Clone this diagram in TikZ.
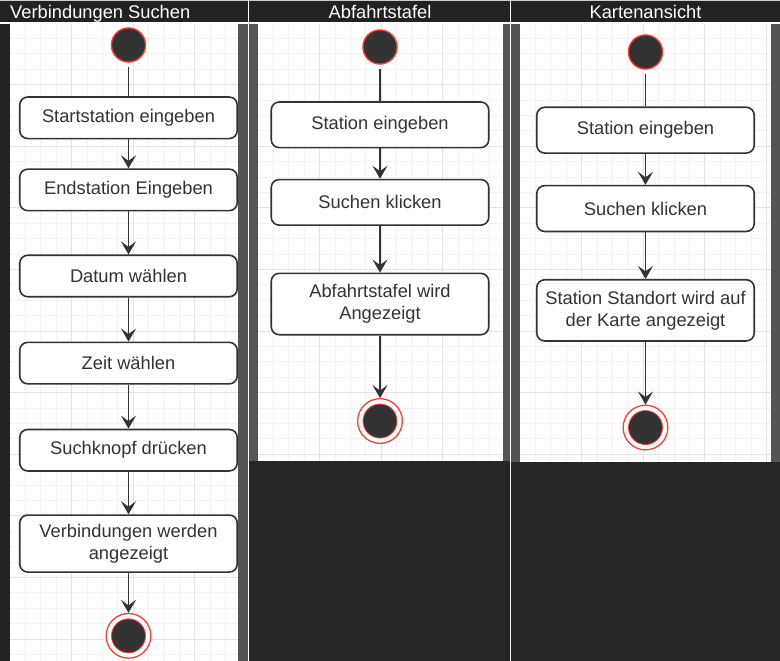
\documentclass[tikz,border=0pt]{standalone}
\usepackage{fontspec}
\setmainfont{Liberation Sans}
\usetikzlibrary{arrows.meta,positioning}
\definecolor{hdrdark}{RGB}{34,34,34}
\definecolor{bgdark}{RGB}{38,38,38}
\definecolor{stripgray}{RGB}{85,85,85}
\definecolor{gridminor}{RGB}{243,243,243}
\definecolor{gridmajor}{RGB}{228,228,228}
\definecolor{inkgray}{RGB}{51,51,51}
\definecolor{statered}{RGB}{255,60,60}

% light drawing grid inside one lane: x0 y0 x1 y1
\newcommand\lanegrid[4]{%
  \pgfmathsetmacro\gxa{#1+15.4}\pgfmathsetmacro\gxb{#1+30.8}%
  \pgfmathsetmacro\gya{#2+15.4}\pgfmathsetmacro\gyb{#2+30.8}%
  \foreach \gx in {\gxa,\gxb,...,#3} \draw[gridline] (\gx,#2) -- (\gx,#4);
  \foreach \gy in {\gya,\gyb,...,#4} \draw[gridline] (#1,\gy) -- (#3,\gy);
  \pgfmathsetmacro\gxa{#1+61.6}\pgfmathsetmacro\gxb{#1+123.2}%
  \pgfmathsetmacro\gya{#2+61.6}\pgfmathsetmacro\gyb{#2+123.2}%
  \foreach \gx in {\gxa,\gxb,...,#3} \draw[gridline, gridmajor] (\gx,#2) -- (\gx,#4);
  \foreach \gy in {\gya,\gyb,...,#4} \draw[gridline, gridmajor] (#1,\gy) -- (#3,\gy);
}

\begin{document}
\begin{tikzpicture}[x=1pt, y=-1pt,
  gridline/.style={draw=gridminor, line width=0.9pt},
  action/.style={draw=inkgray, line width=1.6pt, rounded corners=8pt, fill=white, align=center, text=inkgray, minimum width=217.5pt, minimum height=41.5pt, inner sep=2pt, font=\fontsize{18.3}{22}\selectfont},
  tallaction/.style={action, minimum height=57pt},
  startst/.style={circle, draw=statered, line width=1.3pt, fill=inkgray, minimum size=34.2pt, inner sep=0pt},
  endst/.style={circle, draw=statered, line width=1.3pt, fill=white, minimum size=44.7pt, inner sep=0pt,
    path picture={\filldraw[fill=inkgray, draw=statered, line width=0.8pt] (path picture bounding box.center) circle (17pt);}},
  flow/.style={-{Stealth[length=13pt, width=15pt, inset=5.5pt]}, line width=1.9pt, draw=inkgray},
  link/.style={line width=1.9pt, draw=inkgray, shorten <=4pt},
  lanehead/.style={text=white, inner sep=0pt, anchor=base, font=\fontsize{18.3}{22}\selectfont}
]
\useasboundingbox (0,0) rectangle (780,661);
\fill[bgdark] (0,0) rectangle (780,661);

% lanes
\fill[hdrdark] (0,23) rectangle (10,661);
\fill[white] (10,23) rectangle (238,661);
\lanegrid{10}{23}{238}{661}
\fill[stripgray] (238,23) rectangle (248,661);
\fill[stripgray] (249,23) rectangle (258,461);
\fill[white] (258,23) rectangle (503,461);
\lanegrid{258}{23}{503}{461}
\fill[stripgray] (503,23) rectangle (510,461);
\fill[stripgray] (511,23) rectangle (520,462);
\fill[white] (520,23) rectangle (771,462);
\lanegrid{520}{23}{771}{462}
\fill[stripgray] (771,23) rectangle (780,462);

% header bar
\fill[hdrdark] (0,0) rectangle (780,23);
\fill[gray!40] (0,0) rectangle (780,1.2);
\draw[white, line width=1.2pt] (0,23) -- (780,23);
\draw[white, line width=1.2pt] (248.5,0) -- (248.5,661);
\draw[white, line width=1.2pt] (510.5,0) -- (510.5,661);
\node[lanehead, anchor=base west] (h1) at (10,18.3) {Verbindungen Suchen};
\node[lanehead] (h2) at (380,18.3) {Abfahrtstafel};
\node[lanehead] (h3) at (645.5,18.3) {Kartenansicht};

% Verbindungen Suchen
\node[startst] (s1) at (128.5,45) {};
\node[action, below=33.5pt of s1] (a1) {Startstation eingeben};
\node[action, below=29pt of a1] (a2) {Endstation Eingeben};
\node[action, below=43pt of a2] (a3) {Datum wählen};
\node[action, below=44pt of a3] (a4) {Zeit wählen};
\node[action, below=44pt of a4] (a5) {Suchknopf drücken};
\node[tallaction, below=42.5pt of a5] (a6) {Verbindungen werden\\angezeigt};
\node[endst, below=40pt of a6] (e1) {};
\draw[link] (s1) -- (a1);
\draw[flow] (a1) -- (a2);
\draw[flow] (a2) -- (a3);
\draw[flow] (a3) -- (a4);
\draw[flow] (a4) -- (a5);
\draw[flow] (a5) -- (a6);
\draw[flow] (a6) -- (e1);

% Abfahrtstafel
\node[startst] (s2) at (380,47) {};
\node[action, minimum height=45.6pt, below=36.5pt of s2] (b1) {Station eingeben};
\node[action, minimum height=45.6pt, below=30.3pt of b1] (b2) {Suchen klicken};
\node[tallaction, minimum height=61.4pt, below=46.6pt of b2] (b3) {Abfahrtstafel wird\\Angezeigt};
\node[endst, below=62.5pt of b3] (e2) {};
\draw[link] (s2) -- (b1);
\draw[flow] (b1) -- (b2);
\draw[flow] (b2) -- (b3);
\draw[flow] (b3) -- (e2);

% Kartenansicht
\node[startst] (s3) at (645.5,52) {};
\node[action, minimum height=45.8pt, below=36.7pt of s3] (c1) {Station eingeben};
\node[action, minimum height=45.8pt, below=31pt of c1] (c2) {Suchen klicken};
\node[tallaction, minimum height=61.2pt, below=46.7pt of c2] (c3) {Station Standort wird auf\\der Karte angezeigt};
\node[endst, below=62.8pt of c3] (e3) {};
\draw[link] (s3) -- (c1);
\draw[flow] (c1) -- (c2);
\draw[flow] (c2) -- (c3);
\draw[flow] (c3) -- (e3);
\end{tikzpicture}
\end{document}
